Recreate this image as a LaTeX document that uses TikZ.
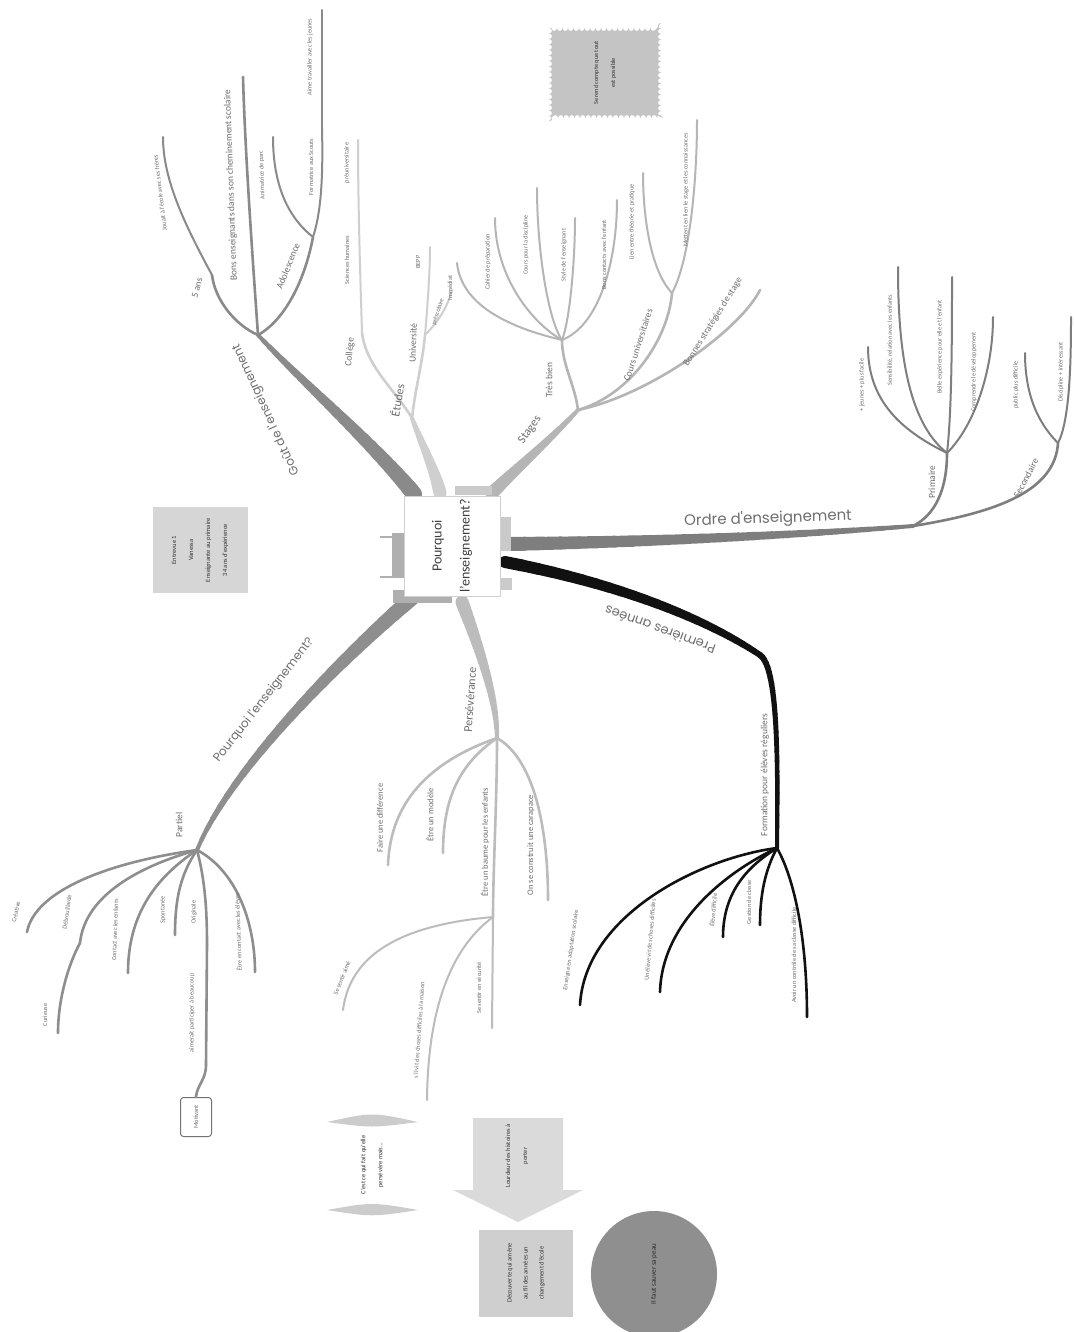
\documentclass[tikz,border=0pt]{standalone}
\usepackage{fontspec}
\setmainfont{Carlito}
\newfontfamily\widefont{Poppins}
\usetikzlibrary{calc,decorations.pathmorphing}
\definecolor{goutc}{HTML}{8A8A8A}
\definecolor{etudc}{HTML}{CFCFCF}
\definecolor{stagec}{HTML}{B5B5B5}
\definecolor{ordrec}{HTML}{7E7E7E}
\definecolor{pourc}{HTML}{8E8E8E}
\definecolor{persc}{HTML}{BCBCBC}
\definecolor{premc}{HTML}{111111}
\definecolor{txtc}{HTML}{6E6E6E}
\definecolor{stubc}{HTML}{AFAFAF}
\definecolor{stubd}{HTML}{CACACA}
\definecolor{cloudc}{HTML}{C4C4C4}
\definecolor{entc}{HTML}{D6D6D6}
\definecolor{arrc}{HTML}{DADADA}
\definecolor{decc}{HTML}{CFCFCF}
\definecolor{circc}{HTML}{8F8F8F}
\definecolor{capc}{HTML}{CCCCCC}
\newcommand{\mmbranch}[7]{%
  \path (#1) .. controls #2 and #3 .. (#4)
    foreach \k [evaluate=\k as \pp using \k/24] in {0,...,24} {coordinate[pos=\pp] (tp\k)};
  \foreach \k [evaluate=\k as \kn using int(\k+1), evaluate=\k as \ww using #5+(#6-#5)*\k/23] in {0,...,23}
    {\draw[line width=\ww pt, line cap=round, #7] (tp\k) -- (tp\kn);}
}
\tikzset{
  lblA/.style={font=\widefont\fontsize{12}{14}\selectfont, text=txtc, inner sep=0pt},
  lblM/.style={font=\fontsize{12}{14}\selectfont, text=txtc, inner sep=0pt},
  lblB/.style={font=\fontsize{9.5}{11}\selectfont, text=txtc, inner sep=0pt},
  lblP/.style={font=\fontsize{8.5}{10}\selectfont, text=txtc, inner sep=0pt},
  lblC/.style={font=\fontsize{6.3}{7.5}\selectfont, text=txtc, inner sep=0pt},
  twigB/.style={line width=2.6pt, line cap=round},
  twigC/.style={line width=2pt, line cap=round},
  rootbox/.style={fill=white, draw=black!18, minimum width=100, minimum height=96, align=center,
    font=\fontsize{14}{28}\selectfont, text=black!75, inner sep=0pt},
  cloudbox/.style={fill=cloudc, minimum width=90, minimum height=112, align=center,
    font=\fontsize{6.3}{17}\selectfont, text=black!80, decorate,
    decoration={bumps, segment length=11pt, amplitude=3pt}},
  entbox/.style={fill=entc, minimum width=86, minimum height=95, align=center,
    font=\fontsize{6.5}{17}\selectfont, text=black!80},
  smallbox/.style={fill=white, draw=black!55, rounded corners=3pt, minimum width=39, minimum height=31,
    font=\fontsize{6.3}{7.5}\selectfont, text=txtc, line width=1pt},
  decbox/.style={fill=decc, minimum width=87, minimum height=94, align=center,
    font=\fontsize{6.5}{16}\selectfont, text=black!80},
  circnode/.style={circle, fill=circc, minimum size=126, align=center,
    font=\fontsize{7}{8}\selectfont, text=black!85},
  plaintxt/.style={align=center, font=\fontsize{6.5}{17}\selectfont, text=black!80, inner sep=0pt}
}
\begin{document}
\begin{tikzpicture}[x=1pt,y=-1pt]
\useasboundingbox[fill=white] (0,0) rectangle (1074,1332);

% ---------------- Goût de l'enseignement
\coordinate (gA) at (414,494);
\coordinate (g0) at (258,335);
\coordinate (g5) at (212,275);
\coordinate (gJ) at (163,137);
\coordinate (gB) at (243,77);
\coordinate (gA1) at (313,237);
\coordinate (gAn) at (273,137);
\coordinate (gF) at (322,128);
\coordinate (gF2) at (322,10);
\mmbranch{gA}{(370,440)}{(300,380)}{g0}{16}{4}{goutc}
\draw[twigB, goutc] (g0) .. controls (235,325) and (215,300) .. (g5);
\draw[twigC, goutc] (g5) .. controls (185,225) and (163,180) .. (gJ);
\draw[twigB, goutc] (g0) .. controls (252,250) and (245,150) .. (gB);
\draw[twigB, goutc] (g0) .. controls (285,320) and (305,280) .. (gA1);
\draw[twigC, goutc] (gA1) .. controls (285,215) and (273,180) .. (gAn);
\draw[twigC, goutc] (gA1) .. controls (322,210) and (323,170) .. (gF);
\draw[twigC, goutc] (gF) -- (gF2);
\node[lblA, rotate=115] (tGout) at (266,410) {Goût de l'enseignement};
\node[lblB, rotate=75] (t5ans) at (197,288) {5 ans};
\node[lblC, rotate=97] (tJouait) at (160,193) {Jouait à l'école avec ses frères};
\node[lblB, rotate=92] (tBons) at (231,185) {Bons enseignants dans son cheminement scolaire};
\node[lblB, rotate=68] (tAdo) at (288,266) {Adolescence};
\node[lblC, rotate=92] (tAnim) at (262,175) {Animatrice de parc};
\node[lblC, rotate=90] (tScout) at (311,167) {Formatrice aux Scouts};
\node[lblC, rotate=90] (tAime) at (310,57) {Aime travailler avec les jeunes};

% ---------------- Études
\coordinate (eA) at (440,493);
\coordinate (e0) at (412,418);
\coordinate (eC) at (362,332);
\coordinate (eC2) at (358,140);
\coordinate (eU) at (425,335);
\coordinate (eU2) at (430,247);
\coordinate (eU3) at (452,290);
\mmbranch{eA}{(435,470)}{(420,440)}{e0}{13}{4}{etudc}
\draw[twigB,etudc] (e0) .. controls (395,390) and (365,365) .. (eC);
\draw[twigC,etudc] (eC) .. controls (360,270) and (358,200) .. (eC2);
\draw[twigB,etudc] (e0) .. controls (415,390) and (423,360) .. (eU);
\draw[twigC,etudc] (eU) .. controls (428,300) and (430,270) .. (eU2);
\draw[twigC,etudc] (eU) .. controls (440,320) and (448,305) .. (eU3);
\node[lblM, rotate=80] (tEtudes) at (397,400) {Études};
\node[lblB, rotate=85] (tCollege) at (350,352) {Collège};
\node[lblC, rotate=90] (tSci) at (347,260) {Sciences humaines};
\node[lblC, rotate=90] (tPreu) at (347,163) {préuniversitaire};
\node[lblB, rotate=88] (tUniv) at (413,343) {Université};
\node[lblC, rotate=90] (tBepp) at (418,262) {BEPP};
\node[lblC, rotate=72] (tPresco) at (438,312) {préscolaire};

% ---------------- Stages
\coordinate (sA) at (492,493);
\coordinate (s0) at (578,410);
\coordinate (sT) at (562,340);
\coordinate (sT1) at (457,263);
\coordinate (sT2) at (495,218);
\coordinate (sT3) at (537,188);
\coordinate (sT4) at (575,218);
\coordinate (sT5) at (617,200);
\coordinate (sC) at (672,293);
\coordinate (sC1) at (643,173);
\coordinate (sC2) at (697,120);
\coordinate (sB) at (760,290);
\mmbranch{sA}{(515,470)}{(550,440)}{s0}{13}{4}{stagec}
\draw[twigB,stagec] (s0) .. controls (575,385) and (562,365) .. (sT);
\draw[twigC,stagec] (sT) .. controls (520,330) and (462,310) .. (sT1);
\draw[twigC,stagec] (sT) .. controls (535,325) and (495,280) .. (sT2);
\draw[twigC,stagec] (sT) .. controls (548,320) and (537,250) .. (sT3);
\draw[twigC,stagec] (sT) .. controls (570,320) and (575,260) .. (sT4);
\draw[twigC,stagec] (sT) .. controls (600,325) and (617,260) .. (sT5);
\draw[twigB,stagec] (s0) .. controls (630,395) and (668,340) .. (sC);
\draw[twigC,stagec] (sC) .. controls (650,270) and (643,215) .. (sC1);
\draw[twigC,stagec] (sC) .. controls (690,260) and (697,180) .. (sC2);
\draw[twigB,stagec] (s0) .. controls (650,395) and (740,330) .. (sB);
\node[lblM, rotate=55] (tStages) at (530,430) {Stages};
\node[lblB, rotate=90] (tTres) at (549,380) {Très bien};
\node[lblC, rotate=90] (tS1) at (450,288) {Immédiat};
\node[lblC, rotate=90] (tS2) at (488,262) {Cahier de préparation};
\node[lblC, rotate=90] (tS3) at (526,245) {Cours pour la discipline};
\node[lblC, rotate=90] (tS4) at (564,255) {Style de l'enseignant};
\node[lblC, rotate=90] (tS5) at (604,255) {Bons contacts avec l'enfant};
\node[lblB, rotate=72] (tCours) at (638,345) {Cours universitaires};
\node[lblC, rotate=90] (tC1) at (632,222) {Lien entre théorie et pratique};
\node[lblC, rotate=90] (tC2) at (686,190) {Mettent en lien le stage et les connaissances};
\node[lblB, rotate=58] (tBonne) at (713,322) {Bonnes stratégies de stage};

% ---------------- cloud
\node[cloudbox, rotate=90] (cloud) at (605,73) {Se rend compte que tout\\est possible};

% ---------------- Ordre d'enseignement
\coordinate (oA) at (507,544);
\coordinate (o0) at (913,526);
\coordinate (oP) at (947,453);
\coordinate (oP1) at (868,347);
\coordinate (oP2) at (898,267);
\coordinate (oP3) at (952,277);
\coordinate (oP4) at (993,317);
\coordinate (oS) at (1058,443);
\coordinate (oS1) at (1025,353);
\coordinate (oS2) at (1071,317);
\mmbranch{oA}{(650,542)}{(800,535)}{o0}{14}{4}{ordrec}
\draw[twigB,ordrec] (o0) .. controls (935,515) and (947,490) .. (oP);
\draw[twigC,ordrec] (oP) .. controls (900,430) and (868,400) .. (oP1);
\draw[twigC,ordrec] (oP) .. controls (905,420) and (898,340) .. (oP2);
\draw[twigC,ordrec] (oP) .. controls (952,410) and (952,330) .. (oP3);
\draw[twigC,ordrec] (oP) .. controls (975,425) and (993,370) .. (oP4);
\draw[twigB,ordrec] (o0) .. controls (1000,512) and (1055,490) .. (oS);
\draw[twigC,ordrec] (oS) .. controls (1035,420) and (1025,390) .. (oS1);
\draw[twigC,ordrec] (oS) .. controls (1070,420) and (1071,360) .. (oS2);
\node[lblA, font=\widefont\fontsize{15}{18}\selectfont, rotate=2] (tOrdre) at (768,519) {Ordre d'enseignement};
\node[lblB, rotate=90] (tPrim) at (932,482) {Primaire};
\node[lblC, rotate=90] (tP1) at (862,385) {+ jeunes + plus facile};
\node[lblC, rotate=90] (tP2) at (890,340) {Sensibilité, relation avec les enfants};
\node[lblC, rotate=90] (tP3) at (940,347) {Belle expérience pour elle et l'enfant};
\node[lblC, rotate=90] (tP4) at (974,372) {Comprendre le développement};
\node[lblB, rotate=62] (tSec) at (1026,478) {Secondaire};
\node[lblC, rotate=90] (tS21) at (1016,385) {public plus difficile};
\node[lblC, rotate=90] (tS22) at (1061,372) {Discipline + intéressant};

% ---------------- Entrevue box
\node[entbox, rotate=90] (entrevue) at (200,550) {Entrevue 1\\Vanessa\\Enseignante au primaire\\34 ans d'expérience};

% ---------------- Pourquoi l'enseignement?
\coordinate (pA) at (412,598);
\coordinate (p0) at (197,850);
\coordinate (pa) at (27,932);
\coordinate (pb) at (80,943);
\coordinate (pb2) at (58,1033);
\coordinate (pc) at (128,973);
\coordinate (pd) at (175,935);
\coordinate (pe) at (207,945);
\coordinate (pe2) at (206,1065);
\coordinate (pf) at (255,972);
\mmbranch{pA}{(340,660)}{(230,770)}{p0}{15}{4}{pourc}
\node[smallbox, rotate=90] (motiv) at (196,1117) {Motivant};
\draw[twigB,pourc] (p0) .. controls (110,862) and (35,890) .. (pa);
\draw[twigB,pourc] (p0) .. controls (140,866) and (85,895) .. (pb);
\draw[twigB,pourc] (pb) .. controls (68,965) and (58,1000) .. (pb2);
\draw[twigB,pourc] (p0) .. controls (155,878) and (128,915) .. (pc);
\draw[twigB,pourc] (p0) .. controls (180,875) and (175,900) .. (pd);
\draw[twigB,pourc] (p0) .. controls (205,880) and (207,910) .. (pe);
\draw[twigB,pourc] (pe) -- (pe2);
\draw[twigB,pourc] (pe2) .. controls (206,1080) and (197,1085) .. (motiv.east);
\draw[twigB,pourc] (p0) .. controls (235,870) and (255,920) .. (pf);
\node[lblA, rotate=52] (tPourquoi) at (264,700) {Pourquoi l'enseignement?};
\node[lblB, rotate=90] (tPartiel) at (179,825) {Partiel};
\node[lblC, rotate=78] (tCrea) at (16,912) {Créative};
\node[lblC, rotate=82] (tDebr) at (67,912) {Débrouillarde};
\node[lblC, rotate=90] (tCur) at (45,1015) {Curieuse};
\node[lblC, rotate=88] (tCont) at (115,930) {Contact avec les enfants};
\node[lblC, rotate=90] (tSpont) at (163,910) {Spontanée};
\node[lblC, rotate=90] (tOrig) at (194,912) {Originale};
\node[lblC, rotate=90] (tAimP) at (192,1013) {aimerait participer à beaucoup};
\node[lblC, rotate=92] (tEtre) at (238,932) {Être en contact avec les élèves};

% ---------------- Persévérance
\coordinate (rA) at (462,602);
\coordinate (r0) at (497,738);
\coordinate (ra) at (388,865);
\coordinate (rb) at (443,853);
\coordinate (rc) at (493,917);
\coordinate (rc1) at (343,1010);
\coordinate (rc2) at (427,1100);
\coordinate (rc3) at (492,1028);
\coordinate (rd) at (548,900);
\mmbranch{rA}{(480,650)}{(497,700)}{r0}{13}{4}{persc}
\draw[twigB,persc] (r0) .. controls (420,765) and (390,810) .. (ra);
\draw[twigB,persc] (r0) .. controls (458,765) and (443,800) .. (rb);
\draw[twigB,persc] (r0) .. controls (497,800) and (493,870) .. (rc);
\draw[twigC,persc] (rc) .. controls (400,925) and (350,955) .. (rc1);
\draw[twigC,persc] (rc) .. controls (455,945) and (428,1000) .. (rc2);
\draw[twigC,persc] (rc) -- (rc3);
\draw[twigB,persc] (r0) .. controls (535,760) and (548,830) .. (rd);
\node[lblM, rotate=86] (tPers) at (470,700) {Persévérance};
\node[lblP, rotate=90] (tFaire) at (380,818) {Faire une différence};
\node[lblP, rotate=90] (tModele) at (430,815) {Être un modèle};
\node[lblP, rotate=90] (tBaume) at (485,842) {Être un baume pour les enfants};
\node[lblC, rotate=68] (tAimes) at (342,978) {Se sentir aimé};
\node[lblC, rotate=86] (tVit) at (419,1030) {s'il vit des choses difficiles à la maison};
\node[lblC, rotate=90] (tSecu) at (479,988) {Se sentir en sécurité};
\node[lblP, rotate=90] (tCarap) at (531,845) {On se construit une carapace};

% ---------------- Premières années
\coordinate (fA) at (505,562);
\coordinate (fM) at (760,655);
\coordinate (f0) at (777,848);
\coordinate (fa) at (580,1005);
\coordinate (fb) at (660,992);
\coordinate (fc) at (723,937);
\coordinate (fd) at (760,925);
\coordinate (fe) at (807,1017);
\mmbranch{fA}{(640,588)}{(720,628)}{fM}{12}{6}{premc}
\mmbranch{fM}{(778,667)}{(778,760)}{f0}{6}{4}{premc}
\draw[twigB,premc] (f0) .. controls (700,858) and (585,915) .. (fa);
\draw[twigB,premc] (f0) .. controls (730,870) and (662,920) .. (fb);
\draw[twigB,premc] (f0) .. controls (750,865) and (723,890) .. (fc);
\draw[twigB,premc] (f0) .. controls (765,870) and (760,895) .. (fd);
\draw[twigB,premc] (f0) .. controls (795,880) and (807,940) .. (fe);
\node[lblA, font=\widefont\fontsize{13}{15}\selectfont, rotate=160] (tPrem) at (660,630) {Premières années};
\node[lblB, rotate=90] (tForm) at (765,775) {Formation pour élèves réguliers};
\node[lblC, rotate=82] (tF1) at (571,950) {Enseigne en adaptation scolaire};
\node[lblC, rotate=85] (tF2) at (650,940) {Un élève vit des choses difficiles};
\node[lblC, rotate=85] (tF3) at (713,910) {Élève difficile};
\node[lblC, rotate=90] (tF4) at (749,902) {Gestion de classe};
\node[lblC, rotate=90] (tF5) at (794,955) {Avoir un contrôle de sa classe difficile};

% ---------------- root
\fill[stubc] (392,533) rectangle (406,578);
\draw[stubc, line width=1.5pt] (380,537) -- (392,537) (380,577) -- (392,577);
\fill[stubd] (495,517) rectangle (511,551);
\fill[stubc] (393,590) rectangle (452,603);
\fill[stubd] (496,578) rectangle (512,590);
\fill[stubd] (455,486) rectangle (492,495);
\node[rootbox, rotate=90] (root) at (452,546) {Pourquoi\\l'enseignement?};

% ---------------- bottom shapes
\fill[capc] (327,1122) .. controls (372,1112) .. (418,1122) .. controls (372,1128) .. (327,1122) -- cycle;
\fill[capc] (327,1210) .. controls (372,1202) .. (418,1210) .. controls (372,1217) .. (327,1210) -- cycle;
\node[plaintxt, rotate=90] (cest) at (372,1165) {C'est ce qui fait qu'elle\\persévère mais...};
\fill[arrc] (473,1118) -- (563,1118) -- (563,1190) -- (583,1190) -- (518,1222) -- (453,1190) -- (473,1190) -- cycle;
\node[plaintxt, rotate=90] (arrtxt) at (517,1156) {Lourdeur des histoires à\\porter};
\node[decbox, rotate=90] (decouv) at (526,1273) {Découverte qui amène\\au fil des années un\\changement d'école};
\node[circnode, rotate=90] (sauver) at (654,1274) {Il faut sauver sa peau};
\end{tikzpicture}
\end{document}
